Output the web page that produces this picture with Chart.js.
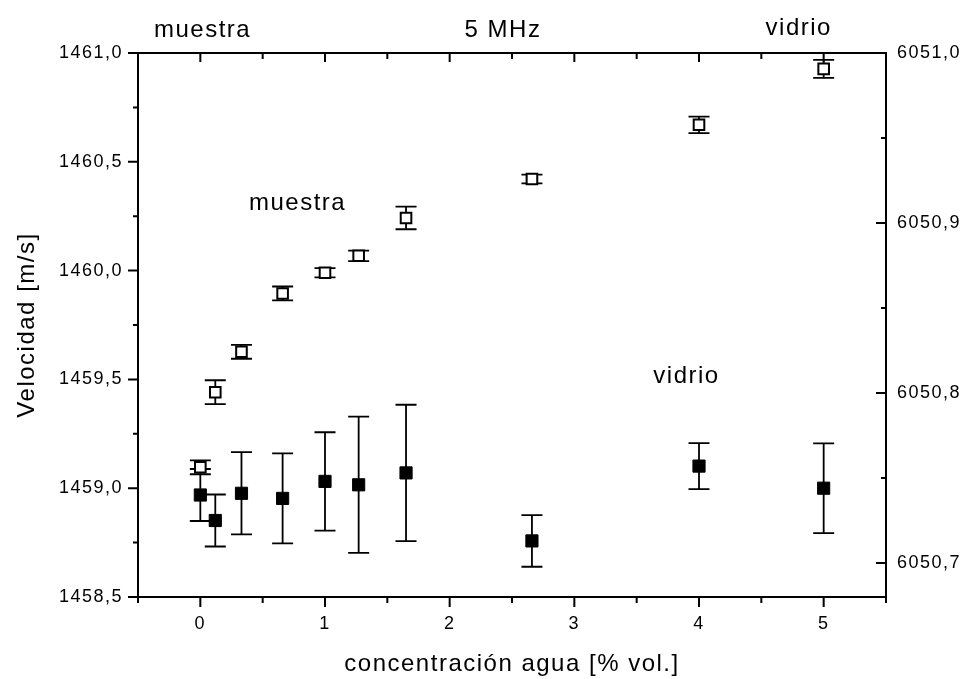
<!DOCTYPE html>
<html>
<head>
<meta charset="utf-8">
<script src="https://cdn.jsdelivr.net/npm/chart.js@4.4.0/dist/chart.umd.min.js"></script>
<style>
html,body{margin:0;padding:0;background:#fff;}
#wrap{width:967px;height:679px;}
</style>
</head>
<body>
<div id="wrap"><canvas id="c" width="967" height="679"></canvas></div>
<script>
// ---- data ----
const concentration = [0, 0.12, 0.33, 0.66, 1.0, 1.27, 1.65, 2.66, 4.0, 5.0];
const muestraVel = [1459.096, 1459.441, 1459.627, 1459.895, 1459.990, 1460.068, 1460.242, 1460.421, 1460.670, 1460.927];
const muestraErr = [0.032, 0.055, 0.032, 0.032, 0.021, 0.024, 0.052, 0.020, 0.038, 0.041];
const vidrioVel = [6050.740, 6050.725, 6050.741, 6050.738, 6050.748, 6050.746, 6050.753, 6050.713, 6050.757, 6050.744];
const vidrioErr = [0.0153, 0.0153, 0.0242, 0.0265, 0.0289, 0.0401, 0.0401, 0.0152, 0.0135, 0.0264];

// ---- ticks ----
const xLabelTicks = [0, 1, 2, 3, 4, 5];
const xMinorTicks = [-0.5, 0.5, 1.5, 2.5, 3.5, 4.5, 5.5];
const leftLabelTicks = [1458.5, 1459.0, 1459.5, 1460.0, 1460.5, 1461.0];
const leftMinorTicks = [1458.75, 1459.25, 1459.75, 1460.25, 1460.75];
const rightLabelTicks = [6050.7, 6050.8, 6050.9, 6051.0];
const rightMinorTicks = [6050.75, 6050.85, 6050.95];

// ---- texts ----
const xTitle = 'concentración agua [% vol.]';
const yTitle = 'Velocidad [m/s]';
const topLeftText = 'muestra';
const topCenterText = '5 MHz';
const topRightText = 'vidrio';
const seriesLabelMuestra = 'muestra';
const seriesLabelVidrio = 'vidrio';

const FONT = '"Liberation Sans", Arial, Helvetica, sans-serif';
const fmt = v => v.toFixed(1).replace('.', ',');

const decor = {
  id: 'decor',
  beforeUpdate(chart) { chart.ctx.letterSpacing = '1.5px'; },
  beforeDraw(chart) { chart.ctx.letterSpacing = '1.5px'; },
  beforeDatasetsDraw(chart) {
    const ctx = chart.ctx;
    const xs = chart.scales.x, ys = chart.scales.y, y2 = chart.scales.y2;
    ctx.save();
    ctx.strokeStyle = '#000';
    ctx.lineWidth = 1.8;
    const cap = 10.5;
    const bar = (scaleY, vals, errs) => {
      for (let i = 0; i < concentration.length; i++) {
        const px = xs.getPixelForValue(concentration[i]);
        const t = scaleY.getPixelForValue(vals[i] + errs[i]);
        const b = scaleY.getPixelForValue(vals[i] - errs[i]);
        ctx.beginPath();
        ctx.moveTo(px, t); ctx.lineTo(px, b);
        ctx.moveTo(px - cap, t); ctx.lineTo(px + cap, t);
        ctx.moveTo(px - cap, b); ctx.lineTo(px + cap, b);
        ctx.stroke();
      }
    };
    bar(ys, muestraVel, muestraErr);
    bar(y2, vidrioVel, vidrioErr);
    ctx.restore();
  },
  afterDraw(chart) {
    const ctx = chart.ctx;
    const a = chart.chartArea;
    const xs = chart.scales.x, ys = chart.scales.y, y2 = chart.scales.y2;
    ctx.save();
    ctx.strokeStyle = '#000';
    ctx.lineWidth = 2;
    // top frame line
    ctx.beginPath();
    ctx.moveTo(a.left - 1, a.top); ctx.lineTo(a.right + 1, a.top);
    ctx.stroke();
    ctx.beginPath();
    // bottom ticks (outward)
    xLabelTicks.forEach(v => { const p = xs.getPixelForValue(v); ctx.moveTo(p, a.bottom); ctx.lineTo(p, a.bottom + 10); });
    xMinorTicks.forEach(v => { const p = xs.getPixelForValue(v); ctx.moveTo(p, a.bottom); ctx.lineTo(p, a.bottom + 6); });
    // top ticks (inward)
    xLabelTicks.forEach(v => { const p = xs.getPixelForValue(v); ctx.moveTo(p, a.top); ctx.lineTo(p, a.top + 9); });
    xMinorTicks.forEach(v => { const p = xs.getPixelForValue(v); ctx.moveTo(p, a.top); ctx.lineTo(p, a.top + 6); });
    // left ticks (outward)
    leftLabelTicks.forEach(v => { const p = ys.getPixelForValue(v); ctx.moveTo(a.left, p); ctx.lineTo(a.left - 10, p); });
    leftMinorTicks.forEach(v => { const p = ys.getPixelForValue(v); ctx.moveTo(a.left, p); ctx.lineTo(a.left - 5, p); });
    // right ticks (inward)
    rightLabelTicks.forEach(v => { const p = y2.getPixelForValue(v); ctx.moveTo(a.right, p); ctx.lineTo(a.right - 10, p); });
    rightMinorTicks.forEach(v => { const p = y2.getPixelForValue(v); ctx.moveTo(a.right, p); ctx.lineTo(a.right - 5, p); });
    ctx.stroke();

    // annotations
    ctx.fillStyle = '#000';
    ctx.font = '24px ' + FONT;
    ctx.letterSpacing = '1.5px';
    ctx.textBaseline = 'alphabetic';
    ctx.textAlign = 'left';
    ctx.fillText(topLeftText, a.left + 16, a.top - 16);
    ctx.textAlign = 'center';
    ctx.fillText(topCenterText, (a.left + a.right) / 2 - 9, a.top - 16);
    ctx.fillText(topRightText, xs.getPixelForValue(4.8), a.top - 18);
    ctx.fillText(seriesLabelMuestra, xs.getPixelForValue(0.78), ys.getPixelForValue(1460.278));
    ctx.fillText(seriesLabelVidrio, xs.getPixelForValue(3.9), y2.getPixelForValue(6050.806));
    ctx.restore();
  }
};

const tickFont = { family: FONT, size: 18 };
const titleFont = { family: FONT, size: 24 };

new Chart(document.getElementById('c'), {
  type: 'scatter',
  data: {
    datasets: [
      {
        label: seriesLabelMuestra,
        data: concentration.map((c, i) => ({ x: c, y: muestraVel[i] })),
        yAxisID: 'y',
        pointStyle: 'rect',
        pointRadius: 7.5,
        pointBorderWidth: 2,
        pointBackgroundColor: '#fff',
        pointBorderColor: '#000',
        showLine: false
      },
      {
        label: seriesLabelVidrio,
        data: concentration.map((c, i) => ({ x: c, y: vidrioVel[i] })),
        yAxisID: 'y2',
        pointStyle: 'rect',
        pointRadius: 8.6,
        pointBorderWidth: 1,
        pointBackgroundColor: '#000',
        pointBorderColor: '#000',
        showLine: false
      }
    ]
  },
  options: {
    responsive: false,
    animation: false,
    events: [],
    layout: { padding: { top: 53, left: 0, right: 0, bottom: 0 } },
    plugins: { legend: { display: false }, tooltip: { enabled: false }, title: { display: false } },
    scales: {
      x: {
        type: 'linear', position: 'bottom', min: -0.5, max: 5.5,
        afterBuildTicks: s => { s.ticks = xLabelTicks.map(v => ({ value: v })); },
        afterFit: s => { s.height = 82; },
        grid: { display: false, drawTicks: false },
        border: { display: true, color: '#000', width: 2 },
        ticks: { color: '#000', font: tickFont, padding: 16, maxRotation: 0, autoSkip: false, callback: v => String(v) },
        title: { display: true, text: xTitle, color: '#000', font: titleFont, padding: { top: 0, bottom: 0 } }
      },
      y: {
        type: 'linear', position: 'left', min: 1458.5, max: 1461.0,
        afterBuildTicks: s => { s.ticks = leftLabelTicks.map(v => ({ value: v })); },
        afterFit: s => { s.width = 138; },
        grid: { display: false, drawTicks: false },
        border: { display: true, color: '#000', width: 2 },
        ticks: { color: '#000', font: tickFont, padding: 15, autoSkip: false, callback: v => fmt(v) },
        title: { display: true, text: yTitle, color: '#000', font: titleFont, padding: { top: 13, bottom: 0 } }
      },
      y2: {
        type: 'linear', position: 'right', min: 6050.68, max: 6051.0,
        afterBuildTicks: s => { s.ticks = rightLabelTicks.map(v => ({ value: v })); },
        afterFit: s => { s.width = 81; },
        grid: { display: false, drawTicks: false },
        border: { display: true, color: '#000', width: 2 },
        ticks: { color: '#000', font: tickFont, padding: 11, autoSkip: false, callback: v => fmt(v) }
      }
    }
  },
  plugins: [decor]
});
</script>
</body>
</html>
